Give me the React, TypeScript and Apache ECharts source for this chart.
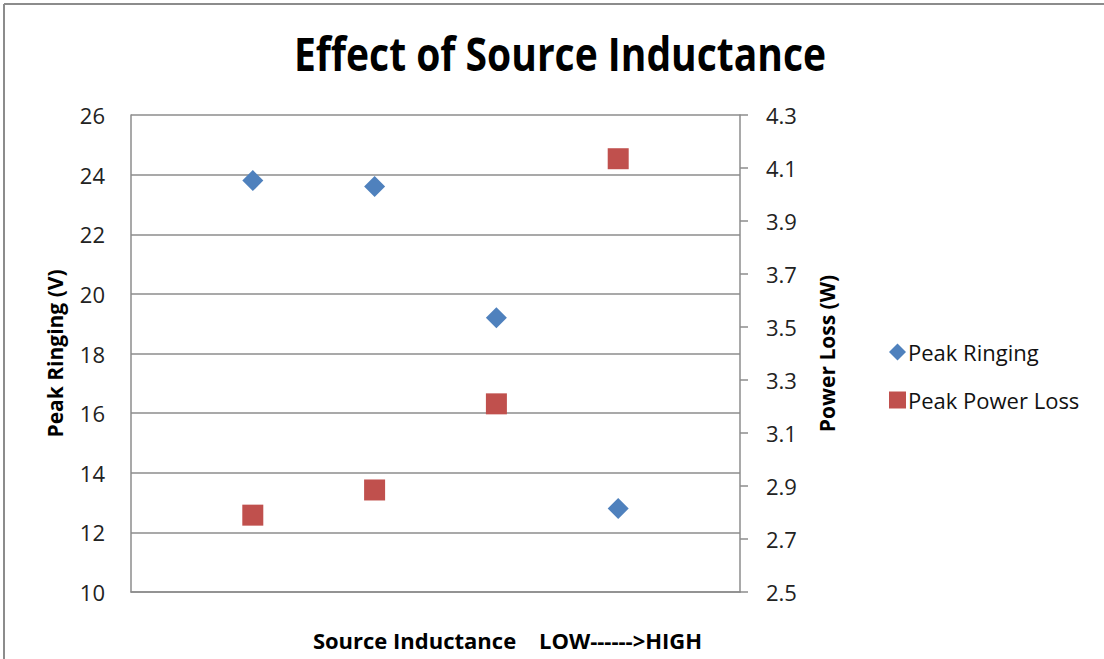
import React, { useEffect, useRef } from "react";
import * as echarts from "echarts";

const categories = [1, 2, 3, 4];
const peakRinging = [23.8, 23.6, 19.2, 12.8];
const peakPowerLoss = [2.79, 2.885, 3.21, 4.135];
const leftTicks = { min: 10, max: 26, interval: 2 };
const rightTicks = { min: 2.5, max: 4.3, interval: 0.2 };
const titleText = "Effect of Source Inductance";
const xName = "Source Inductance    LOW------>HIGH";
const leftName = "Peak Ringing (V)";
const rightName = "Power Loss (W)";

const FONT = "Open Sans";

export default function App() {
  const ref = useRef<HTMLDivElement>(null);
  useEffect(() => {
    document.body.style.margin = "0";
    const chart = echarts.init(ref.current!, null, { renderer: "svg" });
    chart.setOption({
      animation: false,
      backgroundColor: "#ffffff",
      graphic: [
        { type: "line", shape: { x1: 4, y1: 4, x2: 1104, y2: 4 }, style: { stroke: "#8c8c8c", lineWidth: 2 } },
        { type: "line", shape: { x1: 4, y1: 4, x2: 4, y2: 659 }, style: { stroke: "#8c8c8c", lineWidth: 2 } },
        {
          type: "text",
          x: 560,
          y: 53,
          scaleX: 0.83,
          style: {
            text: titleText,
            fontFamily: FONT,
            fontSize: 47,
            fontWeight: "bold",
            fill: "#000",
            textAlign: "center",
            textVerticalAlign: "middle",
          },
        },
      ],
      legend: {
        orient: "vertical",
        left: 884,
        top: 334,
        itemGap: 22,
        itemWidth: 17,
        itemHeight: 17,
        textStyle: { fontFamily: FONT, fontSize: 22, color: "#111", lineHeight: 26, padding: [0, 0, 0, -3] },
        data: [
          { name: "Peak Ringing", icon: "diamond" },
          { name: "Peak Power Loss", icon: "rect" },
        ],
      },
      grid: { left: 131, right: 364, top: 115, bottom: 67, containLabel: false, outerBoundsMode: "none" },
      xAxis: {
        type: "value",
        min: 0,
        max: 5,
        name: xName,
        nameLocation: "middle",
        nameGap: 37,
        nameTextStyle: {
          fontFamily: FONT,
          fontSize: 22,
          fontWeight: "bold",
          color: "#000",
          padding: [0, 0, 0, 144],
        },
        axisLine: { show: true, lineStyle: { color: "#8c8c8c", width: 1.5 } },
        axisTick: { show: false },
        axisLabel: { show: false },
        splitLine: { show: false },
      },
      yAxis: [
        {
          type: "value",
          min: leftTicks.min,
          max: leftTicks.max,
          interval: leftTicks.interval,
          name: leftName,
          nameLocation: "middle",
          nameGap: 66,
          nameRotate: 90,
          nameTextStyle: { fontFamily: FONT, fontSize: 21, fontWeight: "bold", color: "#000" },
          axisLine: { show: true, lineStyle: { color: "#8c8c8c", width: 1.5 } },
          axisTick: { show: false },
          axisLabel: { fontFamily: FONT, fontSize: 22, color: "#222", margin: 26 },
          splitLine: { show: true, lineStyle: { color: "#8c8c8c", width: 1.5 } },
        },
        {
          type: "value",
          position: "right",
          min: rightTicks.min,
          max: rightTicks.max,
          interval: rightTicks.interval,
          name: rightName,
          nameLocation: "middle",
          nameGap: 76,
          nameRotate: 90,
          nameTextStyle: { fontFamily: FONT, fontSize: 21, fontWeight: "bold", color: "#000" },
          axisLine: { show: true, lineStyle: { color: "#8c8c8c", width: 1.5 } },
          axisTick: { show: true, inside: false, length: 8, lineStyle: { color: "#8c8c8c", width: 1.5 } },
          axisLabel: {
            fontFamily: FONT,
            fontSize: 22,
            color: "#222",
            margin: 26,
            formatter: (v: number) => v.toFixed(1),
          },
          splitLine: { show: false },
        },
      ],
      series: [
        {
          name: "Peak Ringing",
          type: "scatter",
          yAxisIndex: 0,
          symbol: "diamond",
          symbolSize: 21,
          itemStyle: { color: "#4f81bd", opacity: 1 },
          data: categories.map((c, i) => [c, peakRinging[i]]),
        },
        {
          name: "Peak Power Loss",
          type: "scatter",
          yAxisIndex: 1,
          symbol: "rect",
          symbolSize: 21,
          itemStyle: { color: "#c0504d", opacity: 1 },
          data: categories.map((c, i) => [c, peakPowerLoss[i]]),
        },
      ],
    });
    return () => chart.dispose();
  }, []);
  return <div ref={ref} style={{ width: 1104, height: 659, position: "absolute", left: 0, top: 0 }} />;
}
